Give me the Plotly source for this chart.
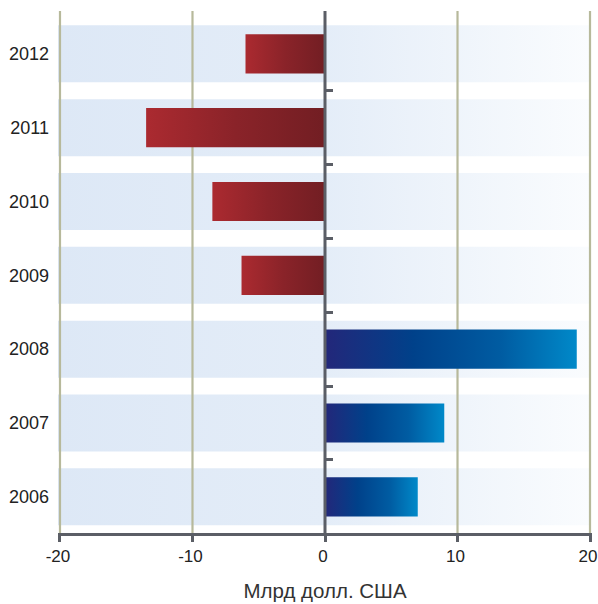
import plotly.graph_objects as go

# ---- data ----
years = ["2006", "2007", "2008", "2009", "2010", "2011", "2012"]
values = [7.0, 9.0, 19.0, -6.3, -8.5, -13.5, -6.0]
x_tick_vals = [-20, -10, 0, 10, 20]
x_tick_text = ["-20", "-10", "0", "10", "20"]
grid_vals = [-20, -10, 10, 20]
x_title = "Млрд долл. США"

# ---- style ----
X_RANGE = [-20.15, 20.15]
Y_RANGE = [-0.49, 6.58]
BAND_HALF = 0.386
BAR_HALF = 0.265
AXIS_COLOR = "#5b5e66"
GRID_COLOR = "#b7b99b"
Y_TICK_FONT = dict(family="Liberation Sans Narrow, Arial Narrow, Liberation Sans, Arial", size=18, color="#222222")
X_TICK_FONT = dict(family="Liberation Sans Narrow, Arial Narrow, Liberation Sans, Arial", size=17, color="#222222")
TITLE_FONT = dict(family="Liberation Sans, Arial", size=20.5, color="#333333")

band_scale = [[0, "#dde8f6"], [0.5, "#e4edf8"], [1, "#fafcfe"]]
neg_scale = [[0, "#ab2a30"], [0.5, "#8a2329"], [1, "#721e23"]]
pos_scale = [[0, "#23277a"], [0.35, "#00418a"], [0.7, "#005ca2"], [1, "#0089c9"]]

n = len(years)
idx = list(range(n))

fig = go.Figure()

# background bands
bx, by = [], []
for i in idx:
    lo, hi = i - BAND_HALF, i + BAND_HALF
    bx += [X_RANGE[0], grid_vals[-1], grid_vals[-1], X_RANGE[0], X_RANGE[0], None]
    by += [lo, lo, hi, hi, lo, None]
fig.add_trace(go.Scatter(
    x=bx, y=by, mode="lines", fill="toself", line=dict(width=0),
    fillgradient=dict(type="horizontal", colorscale=band_scale),
    hoverinfo="skip", showlegend=False))

# grid lines
gx, gy = [], []
for g in grid_vals:
    gx += [g, g, None]
    gy += [Y_RANGE[0], Y_RANGE[1], None]
fig.add_trace(go.Scatter(x=gx, y=gy, mode="lines",
                         line=dict(color=GRID_COLOR, width=2.2),
                         hoverinfo="skip", showlegend=False))

# bars
for i, v in zip(idx, values):
    lo, hi = i - BAR_HALF, i + BAR_HALF
    fig.add_trace(go.Scatter(
        x=[0, v, v, 0, 0], y=[lo, lo, hi, hi, lo],
        mode="lines", fill="toself", line=dict(width=0),
        fillgradient=dict(type="horizontal",
                          colorscale=neg_scale if v < 0 else pos_scale),
        name=years[i], hovertemplate=years[i] + ": %{customdata}<extra></extra>",
        customdata=[v] * 5, showlegend=False))

# zero line (on overlay axis that carries the category-boundary ticks)
fig.add_trace(go.Scatter(x=[0, 0], y=[Y_RANGE[0], Y_RANGE[1]], mode="lines",
                         line=dict(color=AXIS_COLOR, width=3),
                         yaxis="y2", hoverinfo="skip", showlegend=False))

zero_pos = (0 - X_RANGE[0]) / (X_RANGE[1] - X_RANGE[0])

fig.update_layout(
    width=598, height=604,
    margin=dict(l=58, r=6, t=11, b=71),
    paper_bgcolor="white", plot_bgcolor="white",
    showlegend=False,
    xaxis=dict(range=X_RANGE, tickvals=x_tick_vals, ticktext=x_tick_text,
               automargin=False, ticklabeloverflow="allow", ticklabelshift=-2,
               showgrid=False, zeroline=False,
               showline=True, linecolor=AXIS_COLOR, linewidth=3,
               ticks="outside", ticklen=6, tickwidth=3, tickcolor=AXIS_COLOR,
               tickfont=X_TICK_FONT,
               title=dict(text=x_title, font=TITLE_FONT, standoff=19)),
    yaxis=dict(range=Y_RANGE, tickvals=idx, ticktext=years, automargin=False,
               showgrid=False, zeroline=False, showline=False,
               ticks="", ticklabelstandoff=8, tickfont=Y_TICK_FONT),
    yaxis2=dict(range=Y_RANGE, overlaying="y", anchor="free", position=zero_pos,
                side="left", tickvals=[i + 0.5 for i in idx[:-1]],
                automargin=False,
                showticklabels=False, showgrid=False, zeroline=False,
                showline=False, ticks="inside", ticklen=7, tickwidth=3,
                tickcolor=AXIS_COLOR, layer="above traces"),
)

fig.write_html("out.html")
